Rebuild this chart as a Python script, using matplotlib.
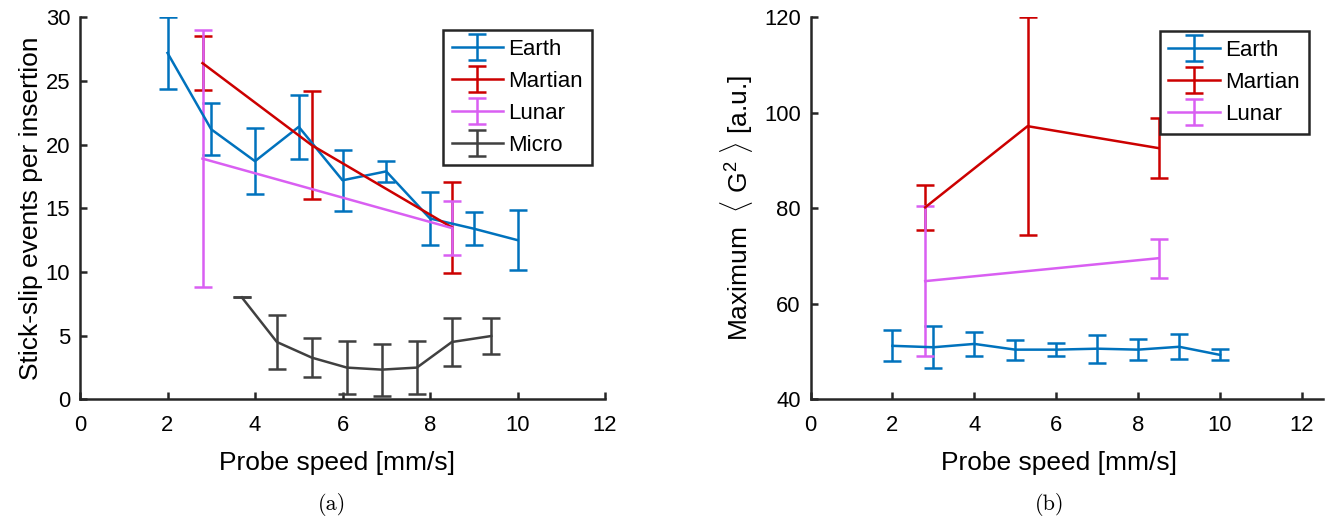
"""Stick-slip events and maximum G^2 versus probe speed for the four soils"""

import matplotlib
matplotlib.use('Agg')
import matplotlib.pyplot as plt
from matplotlib.legend_handler import HandlerErrorbar

# ---- data: (a) stick-slip events per insertion ----
earth_speed = [2, 3, 4, 5, 6, 7, 8, 9, 10]
earth_events = [27.2, 21.2, 18.7, 21.4, 17.2, 17.9, 14.2, 13.4, 12.5]
earth_events_err = [2.8, 2.05, 2.6, 2.5, 2.4, 0.8, 2.05, 1.3, 2.35]

martian_speed = [2.8, 5.3, 8.5]
martian_events = [26.4, 19.95, 13.5]
martian_events_err = [2.1, 4.25, 3.55]

lunar_speed = [2.8, 8.5]
lunar_events = [18.9, 13.45]
lunar_events_err = [10.1, 2.1]

micro_speed = [3.7, 4.5, 5.3, 6.1, 6.9, 7.7, 8.5, 9.4]
micro_events = [8.0, 4.5, 3.27, 2.49, 2.33, 2.49, 4.5, 4.97]
micro_events_err = [0, 2.1, 1.55, 2.1, 2.05, 2.1, 1.9, 1.4]

# ---- data: (b) maximum <G^2> ----
earth_g2 = [51.2, 50.9, 51.6, 50.4, 50.4, 50.6, 50.4, 51.0, 49.3]
earth_g2_err = [3.25, 4.4, 2.55, 2.1, 1.4, 2.9, 2.25, 2.6, 1.15]

martian_g2 = [80.2, 97.2, 92.6]
martian_g2_err = [4.75, 22.8, 6.3]

lunar_g2 = [64.75, 69.55]
lunar_g2_err = [15.75, 4.1]

c_earth = '#0072BD'
c_martian = '#CC0000'
c_lunar = '#D95FF2'
c_micro = '#404040'
c_axis = '#262626'

plt.rcParams['font.family'] = ['Liberation Sans', 'DejaVu Sans']
plt.rcParams['mathtext.fontset'] = 'custom'
plt.rcParams['mathtext.rm'] = 'Liberation Sans'
plt.rcParams['mathtext.it'] = 'Liberation Sans:italic'

fig = plt.figure(figsize=(13.27, 5.2), dpi=100)
ax1 = fig.add_axes([80 / 1327, 1 - 399.3 / 520, 525 / 1327, 382 / 520])
ax2 = fig.add_axes([810.5 / 1327, 1 - 399.3 / 520, 512 / 1327, 382 / 520])

eb_style = dict(linewidth=1.8, capsize=6.5, capthick=1.8, elinewidth=1.8)


def style_axes(ax):
    for side in ['top', 'right']:
        ax.spines[side].set_visible(False)
    for side in ['left', 'bottom']:
        ax.spines[side].set_linewidth(1.8)
        ax.spines[side].set_color(c_axis)
    ax.tick_params(direction='in', length=5, width=1.8, color=c_axis,
                   labelsize=15.8, labelcolor='black')
    ax.tick_params(axis='x', pad=11)
    ax.tick_params(axis='y', pad=7)


# (a)
ax1.errorbar(earth_speed, earth_events, yerr=earth_events_err, color=c_earth, label='Earth', **eb_style)
ax1.errorbar(martian_speed, martian_events, yerr=martian_events_err, color=c_martian, label='Martian', **eb_style)
ax1.errorbar(lunar_speed, lunar_events, yerr=lunar_events_err, color=c_lunar, label='Lunar', **eb_style)
ax1.errorbar(micro_speed, micro_events, yerr=micro_events_err, color=c_micro, label='Micro', **eb_style)
ax1.set_xlim(0, 12)
ax1.set_ylim(0, 30)
ax1.set_xticks(range(0, 13, 2))
ax1.set_yticks(range(0, 31, 5))
style_axes(ax1)
ax1.set_xlabel('Probe speed [mm/s]', fontsize=19)
ax1.set_ylabel('Stick-slip events per insertion', fontsize=19)
ax1.xaxis.set_label_coords(0.49, -0.135)
ax1.yaxis.set_label_coords(-0.07, 0.5)

# (b)
ax2.errorbar(earth_speed, earth_g2, yerr=earth_g2_err, color=c_earth, label='Earth', **eb_style)
ax2.errorbar(martian_speed, martian_g2, yerr=martian_g2_err, color=c_martian, label='Martian', **eb_style)
ax2.errorbar(lunar_speed, lunar_g2, yerr=lunar_g2_err, color=c_lunar, label='Lunar', **eb_style)
ax2.set_xlim(0, 12.5)
ax2.set_ylim(40, 120)
ax2.set_xticks(range(0, 13, 2))
ax2.set_yticks(range(40, 121, 20))
style_axes(ax2)
ax2.set_xlabel('Probe speed [mm/s]', fontsize=19)
ax2.set_ylabel(r'Maximum  $\langle\ \mathrm{G}^2\ \rangle$ [a.u.]', fontsize=19)
ax2.xaxis.set_label_coords(0.485, -0.135)
ax2.yaxis.set_label_coords(-0.108, 0.5)

for ax, anchor in [(ax1, (0.975, 0.967)), (ax2, (0.973, 0.964))]:
    leg = ax.legend(loc='upper right', bbox_to_anchor=anchor, borderaxespad=0,
                    fontsize=16, fancybox=False, framealpha=1, edgecolor=c_axis,
                    handlelength=2.3, handletextpad=0.25, labelspacing=0.5,
                    borderpad=0.4, handler_map={type(ax.containers[0]): HandlerErrorbar(xerr_size=0.58)})
    leg.get_frame().set_linewidth(1.8)

fig.text(332 / 1327, 1 - 505 / 520, '(a)', fontfamily='cmr10', fontsize=16, ha='center', va='center')
fig.text(1050 / 1327, 1 - 505 / 520, '(b)', fontfamily='cmr10', fontsize=16, ha='center', va='center')

fig.savefig('out.png', dpi=100)
